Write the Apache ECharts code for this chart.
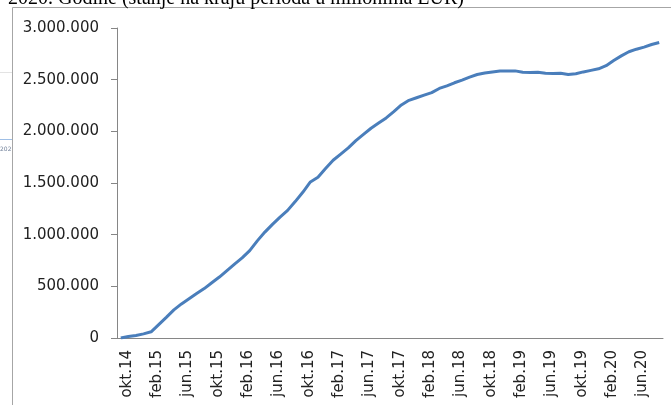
<!DOCTYPE html>
<html>
<head>
<meta charset="utf-8">
<script src="https://cdn.jsdelivr.net/npm/echarts@6/dist/echarts.min.js"></script>
<style>
  html, body { margin: 0; padding: 0; background: #fff; }
  #chart { width: 671px; height: 405px; }
</style>
</head>
<body>
<div id="chart"></div>
<script>
// months okt.14 - sep.20
const months = [
  'okt.14', 'nov.14', 'dec.14',
  'jan.15', 'feb.15', 'mar.15', 'apr.15', 'maj.15', 'jun.15', 'jul.15', 'avg.15', 'sep.15', 'okt.15', 'nov.15', 'dec.15',
  'jan.16', 'feb.16', 'mar.16', 'apr.16', 'maj.16', 'jun.16', 'jul.16', 'avg.16', 'sep.16', 'okt.16', 'nov.16', 'dec.16',
  'jan.17', 'feb.17', 'mar.17', 'apr.17', 'maj.17', 'jun.17', 'jul.17', 'avg.17', 'sep.17', 'okt.17', 'nov.17', 'dec.17',
  'jan.18', 'feb.18', 'mar.18', 'apr.18', 'maj.18', 'jun.18', 'jul.18', 'avg.18', 'sep.18', 'okt.18', 'nov.18', 'dec.18',
  'jan.19', 'feb.19', 'mar.19', 'apr.19', 'maj.19', 'jun.19', 'jul.19', 'avg.19', 'sep.19', 'okt.19', 'nov.19', 'dec.19',
  'jan.20', 'feb.20', 'mar.20', 'apr.20', 'maj.20', 'jun.20', 'jul.20', 'avg.20', 'sep.20'
];

// stanje na kraju perioda
const stanje = [
  0, 15000, 25000,
  40000, 60000, 130000, 200000, 272000, 330000, 380000, 430000, 478000, 535000, 590000, 653000,
  715000, 775000, 845000, 940000, 1025000, 1100000, 1170000, 1235000, 1320000, 1410000, 1510000, 1555000,
  1640000, 1720000, 1780000, 1840000, 1910000, 1970000, 2030000, 2080000, 2130000, 2190000, 2255000, 2300000,
  2325000, 2350000, 2375000, 2415000, 2440000, 2470000, 2495000, 2525000, 2550000, 2565000, 2575000, 2583000,
  2585000, 2585000, 2572000, 2570000, 2572000, 2562000, 2560000, 2562000, 2550000, 2557000, 2575000, 2590000,
  2605000, 2635000, 2685000, 2730000, 2770000, 2795000, 2815000, 2840000, 2860000
];

const chart = echarts.init(document.getElementById('chart'));

const axisColor = '#868686';
const fontFamily = '"DejaVu Sans", sans-serif';

chart.setOption({
  animation: false,
  grid: {
    left: 117,
    right: 8,
    top: 28,
    bottom: 67
  },
  graphic: [
    {
      type: 'rect',
      shape: { x: 12.5, y: 7.5, width: 700, height: 500 },
      style: { fill: null, stroke: '#a6a6a6', lineWidth: 1 },
      z: -1
    },
    {
      type: 'text',
      left: 8,
      top: -11,
      style: {
        text: '2020. Godine (stanje na kraju perioda u milionima EUR)',
        font: '20px "Liberation Serif", serif',
        fill: '#000'
      }
    },
    {
      type: 'line',
      shape: { x1: 0, y1: 72.5, x2: 12, y2: 72.5 },
      style: { stroke: '#e3e3e3', lineWidth: 1 }
    },
    {
      type: 'line',
      shape: { x1: 0, y1: 139.5, x2: 12, y2: 139.5 },
      style: { stroke: '#9fbfe6', lineWidth: 1 }
    },
    {
      type: 'text',
      left: 0,
      top: 146,
      style: { text: '202', font: '6px "DejaVu Sans", sans-serif', fill: '#6f7f99' }
    }
  ],
  xAxis: {
    type: 'category',
    data: months,
    boundaryGap: true,
    axisLine: { lineStyle: { color: axisColor, width: 1 } },
    axisTick: { interval: 3, length: 6, lineStyle: { color: axisColor } },
    axisLabel: {
      interval: 3,
      rotate: 90,
      margin: 12,
      color: '#222',
      fontFamily: fontFamily,
      fontSize: 15,
      lineHeight: 12,
      // empty first line pushes the text a bit to the right of the category centre
      formatter: function (v) {
        return ' \n' + v;
      }
    },
    splitLine: { show: false }
  },
  yAxis: {
    type: 'value',
    min: 0,
    max: 3000000,
    interval: 500000,
    axisLine: { show: true, lineStyle: { color: axisColor, width: 1 } },
    axisTick: { show: true, length: 6, lineStyle: { color: axisColor } },
    axisLabel: {
      margin: 18,
      color: '#222',
      fontFamily: fontFamily,
      fontSize: 15,
      formatter: function (v) {
        return String(v).replace(/\B(?=(\d{3})+(?!\d))/g, '.');
      }
    },
    splitLine: { show: false }
  },
  series: [
    {
      type: 'line',
      data: stanje,
      symbol: 'none',
      lineStyle: { color: '#4a7ebb', width: 3 },
      itemStyle: { color: '#4a7ebb' }
    }
  ]
});
</script>
</body>
</html>
